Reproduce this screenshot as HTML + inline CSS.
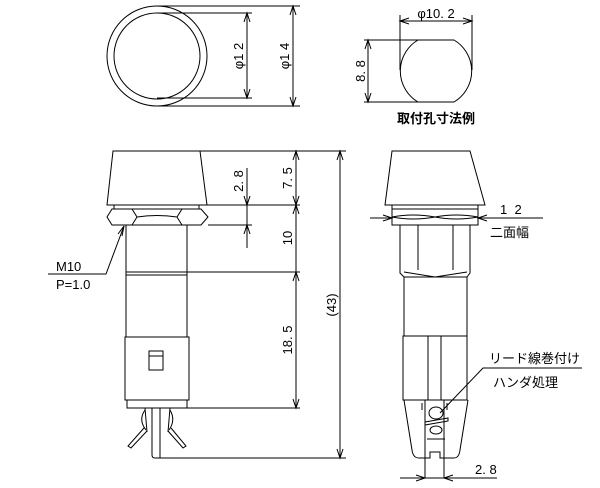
<!DOCTYPE html>
<html><head><meta charset="utf-8"><style>
html,body{margin:0;padding:0;background:#fff;}
svg{display:block;}
text{font-family:"Liberation Sans","Noto Sans CJK JP",sans-serif;fill:#000;white-space:pre;}
</style></head><body>
<svg width="600" height="488" viewBox="0 0 600 488" xmlns="http://www.w3.org/2000/svg" fill="none" stroke="#000" stroke-width="1">
<circle cx="157" cy="56" r="50"/>
<circle cx="157" cy="56" r="43"/>
<line x1="157" y1="6" x2="300" y2="6"/>
<line x1="157" y1="106" x2="300" y2="106"/>
<line x1="157" y1="13" x2="252" y2="13"/>
<line x1="157" y1="98" x2="252" y2="98"/>
<line x1="247" y1="13" x2="247" y2="98"/>
<path d="M244 22 L247 13 L250 22 M244 89 L247 98 L250 89"/>
<line x1="293" y1="6" x2="293" y2="106"/>
<path d="M290 15 L293 6 L296 15 M290 97 L293 106 L296 97"/>
<text transform="translate(243,56) rotate(-90)" font-size="13" text-anchor="middle" stroke="none">φ1 2</text>
<text transform="translate(289,56) rotate(-90)" font-size="13" text-anchor="middle" stroke="none">φ1 4</text>
<path d="M418 40 L454 40 A36 36 0 0 1 454 102 L418 102 A36 36 0 0 1 418 40 Z"/>
<line x1="400" y1="15" x2="400" y2="70"/>
<line x1="472" y1="15" x2="472" y2="70"/>
<line x1="400" y1="21" x2="472" y2="21"/>
<path d="M409 18 L400 21 L409 24 M463 18 L472 21 L463 24"/>
<text x="436" y="18" font-size="13" text-anchor="middle" stroke="none">φ10. 2</text>
<line x1="364" y1="40" x2="420" y2="40"/>
<line x1="364" y1="102" x2="420" y2="102"/>
<line x1="368" y1="40" x2="368" y2="102"/>
<path d="M365 49 L368 40 L371 49 M365 93 L368 102 L371 93"/>
<text transform="translate(365,71) rotate(-90)" font-size="13" text-anchor="middle" stroke="none">8. 8</text>
<text x="436" y="123" font-size="13" text-anchor="middle" stroke="none" font-weight="bold">取付孔寸法例</text>
<path d="M113 151 L200 151 L207 205 L107 205 Z"/>
<path d="M114 205 L114 209 L199 209 L199 205"/>
<path d="M112 209 L201 209 L208 217 L201 225 L112 225 L107 217 Z"/>
<path d="M132 209 L137 217 L132 225 M182 209 L177 217 L182 225 M137 217 Q157 214 177 217"/>
<path d="M126 225 L126 337 M187 225 L187 337 M126 272 L187 272 M126 275 L187 275"/>
<rect x="125" y="337" width="64" height="63"/>
<path d="M127 400 L127 408 L187 408 L187 400"/>
<rect x="149" y="351" width="14" height="19"/>
<line x1="149" y1="356" x2="163" y2="356"/>
<path d="M152 408 L152 455 Q152 458 155 458 L160 458 L160 408"/>
<path d="M145 408 L147 432 M170 408 L168 432"/>
<path d="M145 410 Q138 420 146 430 M170 410 Q176 420 169 430"/>
<path d="M144 428 L128 446 L131 448 L147 431 M171 428 L186 446 L183 448 L168 431"/>
<line x1="200" y1="151" x2="346" y2="151"/>
<line x1="207" y1="205" x2="300" y2="205"/>
<line x1="208" y1="225" x2="252" y2="225"/>
<line x1="187" y1="272" x2="300" y2="272"/>
<line x1="187" y1="408" x2="300" y2="408"/>
<line x1="160" y1="458" x2="346" y2="458"/>
<line x1="296" y1="151" x2="296" y2="408"/>
<path d="M293 160 L296 151 L299 160 M293 196 L296 205 L299 196 M293 214 L296 205 L299 214 M293 281 L296 272 L299 281 M293 399 L296 408 L299 399"/>
<line x1="247" y1="168" x2="247" y2="248"/>
<path d="M244 196 L247 205 L250 196 M244 234 L247 225 L250 234"/>
<line x1="340" y1="151" x2="340" y2="458"/>
<path d="M337 160 L340 151 L343 160 M337 449 L340 458 L343 449"/>
<text transform="translate(292,178) rotate(-90)" font-size="13" text-anchor="middle" stroke="none">7. 5</text>
<text transform="translate(243,181) rotate(-90)" font-size="13" text-anchor="middle" stroke="none">2. 8</text>
<text transform="translate(292,238) rotate(-90)" font-size="13" text-anchor="middle" stroke="none">10</text>
<text transform="translate(292,340) rotate(-90)" font-size="13" text-anchor="middle" stroke="none">18. 5</text>
<text transform="translate(336,305) rotate(-90)" font-size="13" text-anchor="middle" stroke="none">(43)</text>
<path d="M48 274 L106 274 L124 226"/>
<path d="M118 234 L124 226 L122 236"/>
<text x="56" y="271" font-size="13" stroke="none">M10</text>
<text x="56" y="289" font-size="13" stroke="none">P=1.0</text>
<path d="M392 151 L470 151 L485 205 L385 205 Z"/>
<path d="M392 205 L392 209 L478 209 L478 205"/>
<path d="M392 209 L478 209 L478 225 L392 225 Z M392 217 Q413 213 435 217 Q456 213 478 217 M392 217 Q413 221 435 217 Q456 221 478 217"/>
<path d="M400 225 L400 273 L404 277 L467 277 L470 273 L470 225 M418 225 L418 270 M453 225 L453 270 M404 272 L435 277 L467 272"/>
<path d="M404 277 L404 336 M467 277 L467 336"/>
<rect x="403" y="336" width="64" height="64"/>
<path d="M428 336 L428 400 M441 336 L441 400"/>
<path d="M404 400 L412 450 Q413 458 419 458 L430 458 L430 452 L440 452 L440 458 L454 458 Q459 458 460 450 L468 400"/>
<path d="M425 400 L425 478 M444 400 L444 478 M422 403 L422 410 M447 403 L447 410"/>
<ellipse cx="436" cy="413" rx="7" ry="6"/>
<path d="M425 422 L448 418 L448 421 L425 425 Z"/>
<ellipse cx="436" cy="430" rx="6" ry="4"/>
<line x1="427" y1="439" x2="445" y2="439"/>
<line x1="400" y1="478" x2="497" y2="478"/>
<path d="M416 475 L425 478 L416 481 M453 475 L444 478 L453 481"/>
<text x="475" y="474" font-size="13" stroke="none">2. 8</text>
<line x1="370" y1="218" x2="392" y2="218"/>
<line x1="478" y1="218" x2="543" y2="218"/>
<path d="M383 215 L392 218 L383 221 M487 215 L478 218 L487 221"/>
<text x="500" y="214" font-size="13" stroke="none">1  2</text>
<text x="490" y="237" font-size="13" stroke="none">二面幅</text>
<path d="M582 368 L483 368 L440 413"/>
<text x="489" y="363" font-size="13" stroke="none">リード線巻付け</text>
<text x="493" y="387" font-size="13" stroke="none">ハンダ処理</text>
</svg>
</body></html>
